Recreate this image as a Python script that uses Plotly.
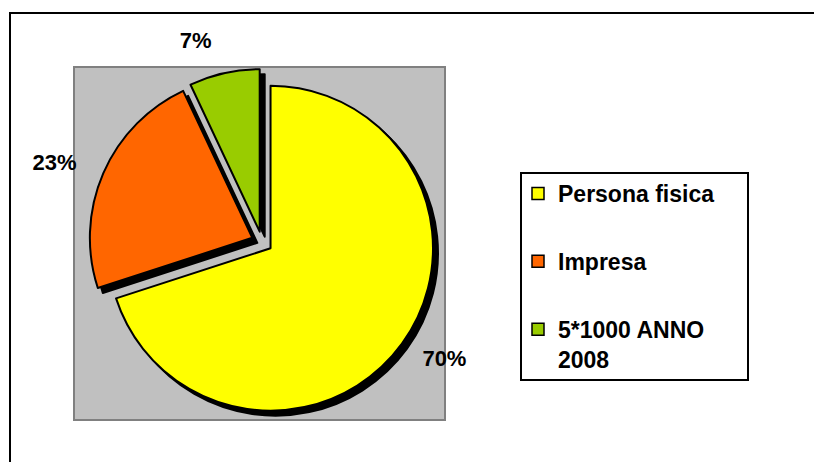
import plotly.graph_objects as go

# ---- data ----
categories = ["Persona fisica", "Impresa", "5*1000 ANNO 2008"]
legend_labels = ["Persona fisica", "Impresa", "5*1000 ANNO<br>2008"]
values = [70, 23, 7]
colors = ["#FFFF00", "#FF6600", "#99CC00"]

W, H = 814, 462
FONT = "Liberation Sans, Arial, sans-serif"


def px(sx):
    return sx / W


def py(sy):
    return 1 - sy / H


def dom(cx, cy, half):
    return dict(x=[px(cx - half), px(cx + half)],
                y=[py(cy + half), py(cy - half)])


PULL = 0.065
CX, CY, HALF = 262, 242, 173

fig = go.Figure()

# shadow pie
fig.add_trace(go.Pie(
    labels=categories, values=values, sort=False, direction="clockwise", rotation=0,
    pull=[PULL] * len(values), domain=dom(CX + 5, CY + 5, HALF),
    marker=dict(colors=["#000000"] * len(values), line=dict(color="#000000", width=2)),
    textinfo="none", hoverinfo="skip", showlegend=False,
))
# main pie
fig.add_trace(go.Pie(
    labels=categories, values=values, sort=False, direction="clockwise", rotation=0,
    pull=[PULL] * len(values), domain=dom(CX, CY, HALF),
    marker=dict(colors=colors, line=dict(color="#000000", width=2)),
    textinfo="none", showlegend=False,
))
# transparent pie used to place the percentage labels further out
fig.add_trace(go.Pie(
    labels=categories, values=values, sort=False, direction="clockwise", rotation=0,
    pull=[PULL] * len(values), domain=dom(CX - 2, CY - 1, 193),
    marker=dict(colors=["rgba(0,0,0,0)"] * len(values), line=dict(width=0)),
    textinfo="percent", textposition="outside",
    textfont=dict(family=FONT, size=22, color="#000000", weight="bold"),
    hoverinfo="skip", showlegend=False,
))

# legend entries
for i, (name, c) in enumerate(zip(legend_labels, colors)):
    fig.add_trace(go.Scatter(
        x=[None], y=[None], mode="markers", name=name, legendgroup=f"g{i}",
        marker=dict(symbol="square", size=12, color=c, line=dict(color="#000000", width=1.5)),
    ))

fig.update_layout(
    width=W, height=H,
    margin=dict(l=0, r=0, t=0, b=0),
    paper_bgcolor="white", plot_bgcolor="white",
    xaxis=dict(visible=False), yaxis=dict(visible=False),
    legend=dict(
        x=px(518), y=py(172), xanchor="left", yanchor="top",
        bgcolor="rgba(0,0,0,0)", borderwidth=0, valign="top",
        tracegroupgap=35, traceorder="grouped",
        font=dict(family=FONT, size=23, color="#000000", weight="bold"),
    ),
    shapes=[
        # outer chart frame
        dict(type="rect", xref="paper", yref="paper", x0=px(10), x1=1.05, y0=-0.05, y1=py(13),
             line=dict(color="#000000", width=2), fillcolor="rgba(0,0,0,0)", layer="below"),
        # gray plot area
        dict(type="rect", xref="paper", yref="paper", x0=px(74), x1=px(445), y0=py(420), y1=py(67),
             line=dict(color="#808080", width=2), fillcolor="#C0C0C0", layer="below"),
        # legend box
        dict(type="rect", xref="paper", yref="paper", x0=px(521), x1=px(748), y0=py(380), y1=py(173),
             line=dict(color="#000000", width=2), fillcolor="#FFFFFF", layer="below"),
    ],
)

fig.write_html(
    "out.html",
    config={"displayModeBar": False},
    post_script="document.body.style.margin='0';document.body.style.overflow='hidden';",
)
